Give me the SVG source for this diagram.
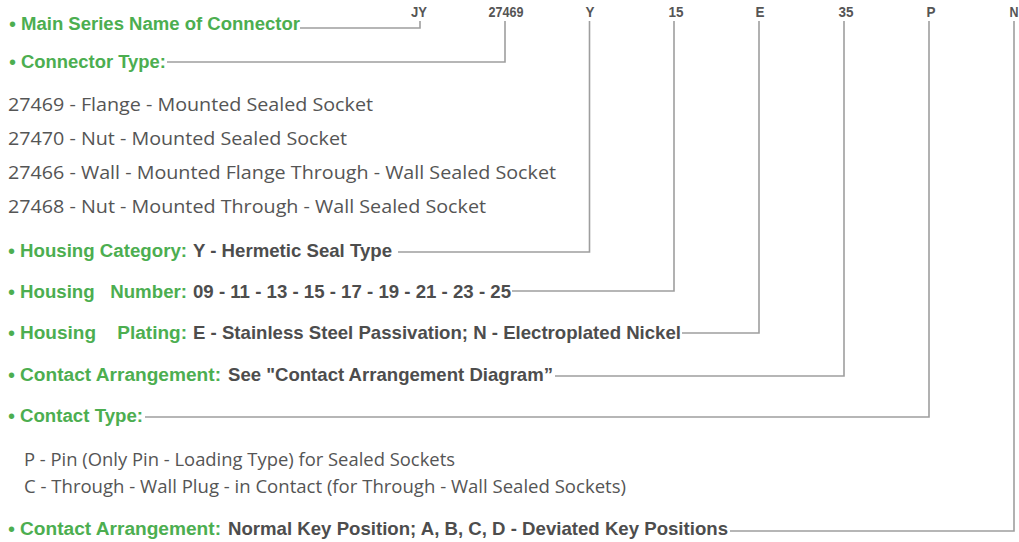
<svg xmlns="http://www.w3.org/2000/svg" width="1019" height="542" viewBox="0 0 1019 542">
<style>
.g{fill:#4cae50;font-family:"Liberation Sans",Arial,sans-serif;font-weight:bold;font-size:18px}
.d{fill:#4d4d4d;font-family:"Liberation Sans",Arial,sans-serif;font-weight:bold;font-size:18.5px}
.c{fill:#555;font-family:"Liberation Sans",Arial,sans-serif;font-weight:bold;font-size:15px;text-anchor:middle}
.r{fill:#555;font-family:"Open Sans","Noto Sans",sans-serif;font-size:18.5px}
.b{fill:#4cae50;font-family:"Liberation Sans",Arial,sans-serif;font-size:20px}
.ln{fill:none;stroke:#9e9e9e;stroke-width:1.6}
</style>
<rect width="1019" height="542" fill="#fff"/>
<g id="codes">
<text class="c" x="419" y="17" textLength="16" lengthAdjust="spacingAndGlyphs">JY</text>
<text class="c" x="506" y="17" textLength="35" lengthAdjust="spacingAndGlyphs">27469</text>
<text class="c" x="590" y="17" textLength="9" lengthAdjust="spacingAndGlyphs">Y</text>
<text class="c" x="676" y="17" textLength="15" lengthAdjust="spacingAndGlyphs">15</text>
<text class="c" x="760" y="17" textLength="9" lengthAdjust="spacingAndGlyphs">E</text>
<text class="c" x="846" y="17" textLength="15" lengthAdjust="spacingAndGlyphs">35</text>
<text class="c" x="931" y="17" textLength="9" lengthAdjust="spacingAndGlyphs">P</text>
<text class="c" x="1014" y="17" textLength="9" lengthAdjust="spacingAndGlyphs">N</text>
</g>
<g id="main-series">
<text class="b" x="9" y="31">•</text>
<text class="g" x="21" y="30" textLength="279" lengthAdjust="spacingAndGlyphs">Main Series Name of Connector</text>
</g>
<g id="connector-type">
<text class="b" x="9" y="69">•</text>
<text class="g" x="21" y="68" textLength="145" lengthAdjust="spacingAndGlyphs">Connector Type:</text>
<text class="r" x="8" y="111" textLength="365" lengthAdjust="spacingAndGlyphs">27469 - Flange - Mounted Sealed Socket</text>
<text class="r" x="8" y="145" textLength="339" lengthAdjust="spacingAndGlyphs">27470 - Nut - Mounted Sealed Socket</text>
<text class="r" x="8" y="179" textLength="548" lengthAdjust="spacingAndGlyphs">27466 - Wall - Mounted Flange Through - Wall Sealed Socket</text>
<text class="r" x="8" y="213" textLength="478" lengthAdjust="spacingAndGlyphs">27468 - Nut - Mounted Through - Wall Sealed Socket</text>
</g>
<g id="housing-category">
<text class="b" x="8" y="258">•</text>
<text class="g" x="20" y="257" textLength="167" lengthAdjust="spacingAndGlyphs">Housing Category:</text>
<text class="d" x="193" y="257" textLength="199" lengthAdjust="spacingAndGlyphs">Y - Hermetic Seal Type</text>
</g>
<g id="housing-number">
<text class="b" x="8" y="299">•</text>
<text class="g" x="20" y="298" textLength="167" lengthAdjust="spacingAndGlyphs" xml:space="preserve">Housing   Number:</text>
<text class="d" x="193" y="298" textLength="318" lengthAdjust="spacingAndGlyphs">09 - 11 - 13 - 15 - 17 - 19 - 21 - 23 - 25</text>
</g>
<g id="housing-plating">
<text class="b" x="8" y="340">•</text>
<text class="g" x="20" y="339" textLength="167" lengthAdjust="spacingAndGlyphs" xml:space="preserve">Housing    Plating:</text>
<text class="d" x="193" y="339" textLength="488" lengthAdjust="spacingAndGlyphs">E - Stainless Steel Passivation; N - Electroplated Nickel</text>
</g>
<g id="contact-arrangement">
<text class="b" x="8" y="382">•</text>
<text class="g" x="20" y="381" textLength="201" lengthAdjust="spacingAndGlyphs">Contact Arrangement:</text>
<text class="d" x="228" y="381" textLength="325" lengthAdjust="spacingAndGlyphs">See "Contact Arrangement Diagram”</text>
</g>
<g id="contact-type">
<text class="b" x="8" y="423">•</text>
<text class="g" x="20" y="422" textLength="123" lengthAdjust="spacingAndGlyphs">Contact Type:</text>
<text class="r" x="24" y="466" textLength="431" lengthAdjust="spacingAndGlyphs">P - Pin (Only Pin - Loading Type) for Sealed Sockets</text>
<text class="r" x="24" y="493" textLength="602" lengthAdjust="spacingAndGlyphs">C - Through - Wall Plug - in Contact (for Through - Wall Sealed Sockets)</text>
</g>
<g id="key-position">
<text class="b" x="8" y="536">•</text>
<text class="g" x="20" y="535" textLength="201" lengthAdjust="spacingAndGlyphs">Contact Arrangement:</text>
<text class="d" x="228" y="535" textLength="500" lengthAdjust="spacingAndGlyphs">Normal Key Position; A, B, C, D - Deviated Key Positions</text>
</g>
<g id="connectors">
<path class="ln" d="M420,21 V28 H300"/>
<path class="ln" d="M505,21 V62 H167"/>
<path class="ln" d="M589.5,21 V252 H398"/>
<path class="ln" d="M674,21 V291 H512"/>
<path class="ln" d="M759,21 V333 H682"/>
<path class="ln" d="M844,21 V376 H555"/>
<path class="ln" d="M929,21 V417 H145"/>
<path class="ln" d="M1014,21 V531 H730"/>
</g>
</svg>
